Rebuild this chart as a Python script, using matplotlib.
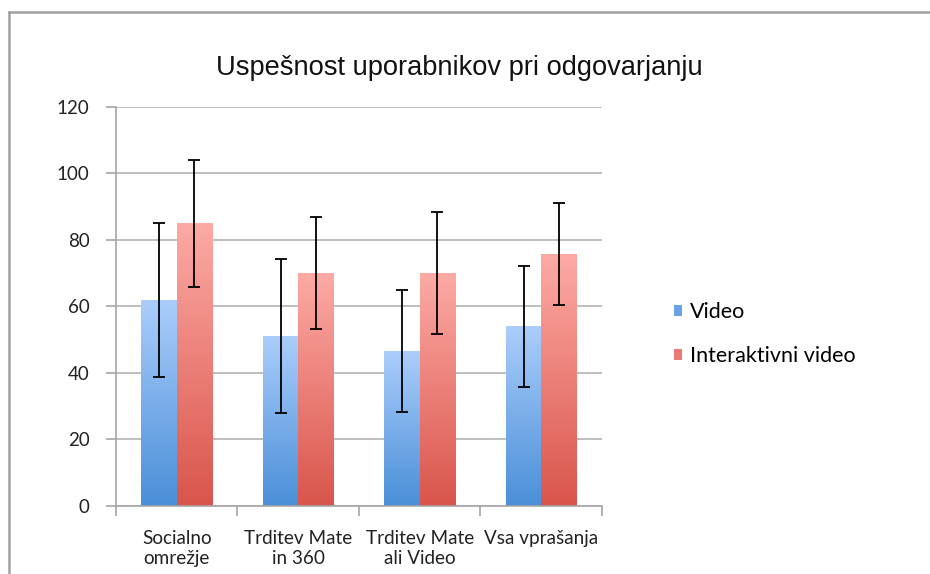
import numpy as np
import matplotlib
matplotlib.use("Agg")
import matplotlib.pyplot as plt
from matplotlib.colors import LinearSegmentedColormap
from matplotlib.lines import Line2D

categories = ["Socialno\nomrežje", "Trditev Mate\nin 360", "Trditev Mate\nali Video", "Vsa vprašanja"]
video = [62, 51.2, 46.6, 54]
video_err = [23.2, 23.2, 18.4, 18.2]
interaktivni = [85, 70, 70, 75.7]
interaktivni_err = [19, 16.9, 18.3, 15.3]
series_names = ["Video", "Interaktivni video"]

blue = LinearSegmentedColormap.from_list("b", ["#4a8fd8", "#abcdfb"])
red = LinearSegmentedColormap.from_list("r", ["#d9554b", "#fdaaa5"])

fig = plt.figure(figsize=(9.3, 5.74), dpi=100)
ax = fig.add_axes([0.1247, 0.1185, 0.5226, 0.6951])

x = np.arange(len(categories))
w = 0.29
grad = np.linspace(0, 1, 256).reshape(-1, 1)

def gradient_bars(xpos, vals, cmap):
    bars = ax.bar(xpos, vals, w, color="none", edgecolor="none", zorder=2)
    for b in bars:
        x0, y0 = b.get_x(), b.get_y()
        im = ax.imshow(grad, cmap=cmap, aspect="auto", origin="lower",
                       extent=[x0, x0 + b.get_width(), y0, y0 + b.get_height()],
                       zorder=2, interpolation="bilinear")
        im.set_clip_path(b)

gradient_bars(x - w / 2, video, blue)
gradient_bars(x + w / 2, interaktivni, red)
ax.errorbar(x - w / 2, video, yerr=video_err, fmt="none", ecolor="black",
            elinewidth=1.3, capsize=4.5, capthick=1.3, zorder=3)
ax.errorbar(x + w / 2, interaktivni, yerr=interaktivni_err, fmt="none", ecolor="black",
            elinewidth=1.3, capsize=4.5, capthick=1.3, zorder=3)

ax.set_xlim(-0.5, len(categories) - 0.5)
ax.set_ylim(0, 120)
ax.set_yticks(range(0, 121, 20))
ax.yaxis.grid(True, color="#b3b3b3", linewidth=1.2, zorder=0)
ax.set_axisbelow(True)
for s in ["top", "right"]:
    ax.spines[s].set_visible(False)
for s in ["left", "bottom"]:
    ax.spines[s].set_color("#a6a6a6")
    ax.spines[s].set_linewidth(1.2)

ax.set_xticks(np.arange(len(categories) + 1) - 0.5)
ax.set_xticklabels([])
ax.set_xticks(x, minor=True)
ax.set_xticklabels(categories, minor=True, fontsize=13.6, family="Lato", color="#222222")
ax.tick_params(axis="x", which="minor", length=0, pad=17)
ax.tick_params(axis="x", which="major", length=7, color="#a6a6a6", width=1.2)
ax.tick_params(axis="y", length=7, color="#a6a6a6", width=1.2, labelsize=13.5,
               labelcolor="#222222", pad=12)
for lbl in ax.get_yticklabels():
    lbl.set_family("Lato")
for lbl in ax.get_xticklabels(minor=True):
    lbl.set_linespacing(1.25)

fig.text(0.494, 0.882, "Uspešnost uporabnikov pri odgovarjanju", ha="center", va="center",
         fontsize=19.6, family="Liberation Sans", color="#111111")

handles = [plt.Rectangle((0, 0), 1, 1, facecolor="#6aa2e6"),
           plt.Rectangle((0, 0), 1, 1, facecolor="#ea7a72")]
fig.legend(handles, series_names, loc="center left", bbox_to_anchor=(0.7246, 0.418),
           frameon=False, prop={"family": "Lato", "size": 15.5}, handlelength=0.4,
           handleheight=0.4, handletextpad=0.35, labelspacing=1.1, borderpad=0,
           borderaxespad=0)

fig.add_artist(Line2D([9 / 930, 1], [1 - 11.5 / 574] * 2, color="#a0a0a0", linewidth=1.8,
                      transform=fig.transFigure))
fig.add_artist(Line2D([9 / 930] * 2, [0, 1 - 11.5 / 574], color="#a0a0a0", linewidth=1.8,
                      transform=fig.transFigure))

fig.savefig("out.png", dpi=100)
